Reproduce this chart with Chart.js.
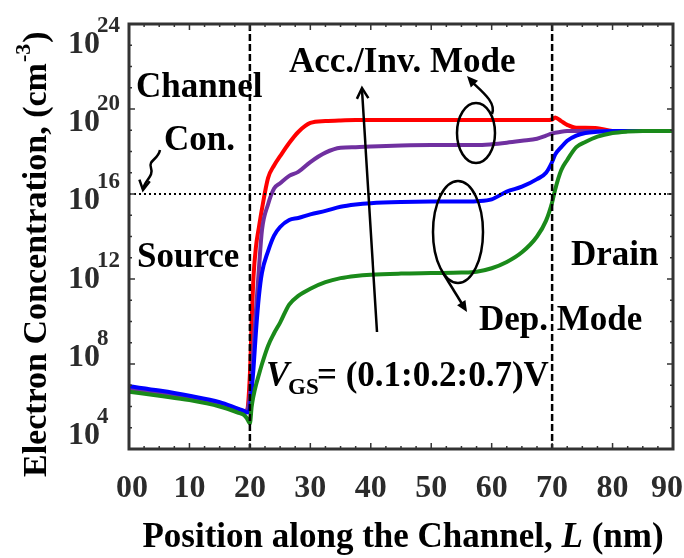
<!DOCTYPE html>
<html>
<head>
<meta charset="utf-8">
<title>Electron Concentration along the Channel</title>
<script src="https://cdn.jsdelivr.net/npm/chart.js"></script>
<style>
  html, body { margin: 0; padding: 0; background: #fff; }
  #wrap { width: 684px; height: 558px; }
</style>
</head>
<body>
<div id="wrap"><canvas id="chart"></canvas></div>
<script>
// Position along the channel (nm)
const positions = [0, 5, 10, 15, 18, 19, 19.5, 20, 20.3, 20.6, 21, 21.5, 22, 23, 24, 25, 26.5, 28, 30, 32.5,
  35, 37.5, 40, 45, 50, 55, 57.5, 60, 62.5, 65, 67.5, 69, 70, 70.5, 71.5, 72.5, 74, 75.5, 77.5, 80, 82.5, 85, 90];

// Electron concentration (cm^-3) for each gate voltage
const vgs01 = [5.0e6, 3.2e6, 2.0e6, 1.0e6, 5.2e5, 4.0e5, 2.8e5, 1.6e5, 1.0e6, 3.2e6, 1.0e7, 3.2e7, 1.0e8, 7.1e8,
  2.8e9, 8.9e9, 6.3e10, 1.6e11, 3.5e11, 7.1e11, 1.1e12, 1.4e12, 1.6e12, 1.8e12, 1.9e12, 2.0e12, 2.2e12, 3.2e12,
  6.3e12, 1.8e13, 1.0e14, 5.6e14, 4.0e15, 1.6e16, 1.3e17, 4.0e17, 1.6e18, 2.8e18, 5.0e18, 7.4e18, 8.7e18, 9.3e18, 9.3e18];
const vgs03 = [8.9e6, 5.6e6, 3.2e6, 1.6e6, 7.9e5, 6.3e5, 5.2e5, 7.9e5, 6.3e6, 6.3e7, 3.2e9, 1.6e11, 2.0e12, 2.0e13,
  1.1e14, 2.8e14, 6.0e14, 7.4e14, 1.1e15, 1.6e15, 2.5e15, 3.2e15, 3.7e15, 4.2e15, 4.4e15, 4.4e15, 4.6e15, 5.6e15,
  1.3e16, 2.2e16, 5.0e16, 1.0e17, 3.2e17, 7.1e17, 1.6e18, 3.2e18, 5.6e18, 7.4e18, 8.5e18, 9.3e18, 9.3e18, 9.3e18, 9.3e18];
const vgs05 = [7.4e6, 4.3e6, 2.5e6, 1.2e6, 6.9e5, 5.5e5, 6.3e5, 3.2e6, 3.2e7, 6.3e8, 3.2e10, 3.2e12, 2.0e14, 3.2e15,
  1.8e16, 3.2e16, 7.1e16, 1.1e17, 3.2e17, 8.9e17, 1.5e18, 1.6e18, 1.7e18, 1.9e18, 2.0e18, 2.0e18, 2.0e18, 2.2e18,
  2.6e18, 3.2e18, 4.0e18, 5.6e18, 7.1e18, 7.6e18, 8.5e18, 9.1e18, 9.3e18, 9.3e18, 9.3e18, 9.3e18, 9.3e18, 9.3e18, 9.3e18];
const vgs07 = [7.4e6, 4.3e6, 2.5e6, 1.2e6, 6.9e5, 5.5e5, 6.3e5, 3.2e7, 1.0e10, 1.3e12, 3.2e13, 2.8e14, 2.0e15, 5.6e16,
  2.2e17, 6.0e17, 2.5e18, 8.3e18, 2.2e19, 2.7e19, 2.9e19, 3.0e19, 3.0e19, 3.0e19, 3.0e19, 3.0e19, 3.0e19, 3.0e19,
  3.0e19, 3.0e19, 3.0e19, 3.0e19, 3.2e19, 4.0e19, 2.7e19, 1.8e19, 1.3e19, 1.3e19, 1.25e19, 9.3e18, 9.3e18, 9.3e18, 9.3e18];

// Axis ticks
const xTicks = [0, 10, 20, 30, 40, 50, 60, 70, 80, 90];
const xTickLabels = ['00', '10', '20', '30', '40', '50', '60', '70', '80', '90'];
const yTicks = [1e4, 1e8, 1e12, 1e16, 1e20, 1e24];
const yTickExponents = ['4', '8', '12', '16', '20', '24'];

// Source / drain edges and channel doping
const junctions = [20, 70];
const channelDoping = 1e16;

const SERIF = '"Liberation Serif", "Times New Roman", serif';

function series(values, color) {
  return {
    data: positions.map((x, i) => ({ x: x, y: values[i] })),
    borderColor: color,
    borderWidth: 4,
    pointRadius: 0,
    cubicInterpolationMode: 'monotone',
    fill: false
  };
}

function line(ctx, x1, y1, x2, y2) {
  ctx.beginPath();
  ctx.moveTo(x1, y1);
  ctx.lineTo(x2, y2);
  ctx.stroke();
}

function arrowHead(ctx, tipX, tipY, fromX, fromY, size, filled) {
  const ang = Math.atan2(tipY - fromY, tipX - fromX);
  const spread = filled ? 0.42 : 0.5;
  const ax = tipX - size * Math.cos(ang - spread), ay = tipY - size * Math.sin(ang - spread);
  const bx = tipX - size * Math.cos(ang + spread), by = tipY - size * Math.sin(ang + spread);
  ctx.beginPath();
  ctx.moveTo(ax, ay);
  ctx.lineTo(tipX, tipY);
  ctx.lineTo(bx, by);
  if (filled) { ctx.closePath(); ctx.fill(); } else { ctx.stroke(); }
}

// reference lines, tick marks and the box around the plot
const framePlugin = {
  id: 'frame',
  afterDatasetsDraw(chart) {
    const { ctx, chartArea: a, scales: { x, y } } = chart;
    ctx.save();
    ctx.strokeStyle = '#000';
    ctx.lineWidth = 2.5;
    ctx.setLineDash([7, 3]);
    junctions.forEach(v => {
      const px = x.getPixelForValue(v);
      line(ctx, px, a.top, px, a.bottom);
    });
    ctx.lineWidth = 2;
    ctx.setLineDash([2, 3]);
    const dy = y.getPixelForValue(channelDoping);
    line(ctx, a.left, dy, a.right, dy);
    ctx.setLineDash([]);

    ctx.strokeStyle = '#333';
    ctx.lineWidth = 1.5;
    for (let v = 0; v <= 90; v += 2.5) {
      const px = x.getPixelForValue(v);
      const len = v % 10 === 0 ? 6 : 3;
      line(ctx, px, a.bottom, px, a.bottom - len);
      line(ctx, px, a.top, px, a.top + len);
    }
    for (let e = 4; e <= 24; e++) {
      const py = y.getPixelForValue(Math.pow(10, e));
      const len = e % 4 === 0 ? 6 : 3;
      line(ctx, a.left, py, a.left + len, py);
      line(ctx, a.right, py, a.right - len, py);
    }
    ctx.lineWidth = 3;
    ctx.strokeRect(a.left, a.top, a.right - a.left, a.bottom - a.top);
    ctx.restore();
  }
};

// tick labels, axis titles and annotations
const labelPlugin = {
  id: 'labels',
  afterDraw(chart) {
    const { ctx, chartArea: a, scales: { x, y }, width } = chart;
    ctx.save();
    ctx.textBaseline = 'alphabetic';

    // x tick labels
    ctx.fillStyle = '#2b2b2b';
    ctx.font = 'bold 32px ' + SERIF;
    ctx.textAlign = 'center';
    xTicks.forEach((v, i) => {
      const w = ctx.measureText(xTickLabels[i]).width;
      const px = Math.min(x.getPixelForValue(v), width - w / 2 - 1);
      ctx.fillText(xTickLabels[i], px + (i === 0 ? 3 : 0), a.bottom + 48);
    });

    // y tick labels, spread evenly down the axis
    const n = yTicks.length;
    const top = a.top + 19, bottom = a.bottom - 15;
    yTicks.forEach((v, i) => {
      const cy = bottom - (bottom - top) * i / (n - 1);
      ctx.font = 'bold 32px ' + SERIF;
      ctx.textAlign = 'right';
      ctx.fillText('10', a.left - 29, cy + 10);
      ctx.font = 'bold 23px ' + SERIF;
      ctx.textAlign = 'left';
      ctx.fillText(yTickExponents[i], a.left - 32, cy - 11);
    });

    // x axis title
    ctx.fillStyle = '#000';
    const xParts = [['Position along the Channel, ', 'bold'], ['L', 'italic bold'], [' (nm)', 'bold']];
    let total = 0;
    xParts.forEach(p => { ctx.font = p[1] + ' 35px ' + SERIF; total += ctx.measureText(p[0]).width; });
    let cx = (a.left + a.right) / 2 + 2 - total / 2;
    ctx.textAlign = 'left';
    xParts.forEach(p => {
      ctx.font = p[1] + ' 35px ' + SERIF;
      ctx.fillText(p[0], cx, 547);
      cx += ctx.measureText(p[0]).width;
    });

    // y axis title
    ctx.save();
    ctx.translate(46, 477);
    ctx.rotate(-Math.PI / 2);
    ctx.font = 'bold 34px ' + SERIF;
    let tx = 0;
    ctx.fillText('Electron Concentration, (cm', tx, 0);
    tx += ctx.measureText('Electron Concentration, (cm').width;
    ctx.font = 'bold 22px ' + SERIF;
    ctx.fillText('-3', tx + 1, -16);
    tx += ctx.measureText('-3').width + 2;
    ctx.font = 'bold 34px ' + SERIF;
    ctx.fillText(')', tx, 0);
    ctx.restore();

    // region and mode labels
    ctx.font = 'bold 35px ' + SERIF;
    ctx.fillText('Channel', 136, 97);
    ctx.fillText('Con.', 164, 150);
    ctx.fillText('Source', 137, 267);
    ctx.fillText('Acc./Inv. Mode', 289, 72);
    ctx.fillText('Drain', 571, 265);
    ctx.fillText('Dep. Mode', 479, 330);

    // gate voltage sweep
    ctx.font = 'italic bold 35px ' + SERIF;
    ctx.fillText('V', 266, 386);
    ctx.font = 'bold 23px ' + SERIF;
    ctx.fillText('GS', 288, 394);
    ctx.font = 'bold 35px ' + SERIF;
    ctx.fillText('= (0.1:0.2:0.7)V', 317, 386);

    ctx.strokeStyle = '#000';
    ctx.fillStyle = '#000';
    ctx.lineWidth = 2.5;

    // sweep arrow
    line(ctx, 377, 332, 362, 90);
    arrowHead(ctx, 362, 88, 377, 332, 12, false);

    // accumulation / inversion ellipse
    ctx.beginPath();
    ctx.ellipse(476, 133, 19, 30, 0, 0, Math.PI * 2);
    ctx.stroke();
    ctx.beginPath();
    ctx.moveTo(492, 114);
    ctx.bezierCurveTo(497, 102, 480, 90, 470, 80);
    ctx.stroke();
    arrowHead(ctx, 467, 76, 478, 88, 12, true);

    // depletion ellipse
    ctx.beginPath();
    ctx.ellipse(458, 232, 25, 51, 0, 0, Math.PI * 2);
    ctx.stroke();
    line(ctx, 443, 273, 464, 307);
    arrowHead(ctx, 467, 312, 443, 273, 12, true);

    // channel doping pointer
    ctx.beginPath();
    ctx.moveTo(160, 150);
    ctx.bezierCurveTo(158, 160, 148, 160, 151, 168);
    ctx.bezierCurveTo(154, 176, 145, 180, 143, 189);
    ctx.stroke();
    arrowHead(ctx, 143, 190, 145, 178, 11, false);

    ctx.restore();
  }
};

new Chart(document.getElementById('chart'), {
  type: 'line',
  data: {
    datasets: [
      series(vgs01, '#1a8a1a'),
      series(vgs03, '#0000ff'),
      series(vgs05, '#7030a0'),
      series(vgs07, '#ff0000')
    ]
  },
  options: {
    responsive: true,
    maintainAspectRatio: false,
    animation: false,
    layout: { padding: { left: 129, top: 24, right: 11, bottom: 109 } },
    plugins: { legend: { display: false }, tooltip: { enabled: false } },
    scales: {
      x: {
        type: 'linear', min: 0, max: 90,
        ticks: { display: false },
        grid: { display: false, drawTicks: false },
        border: { display: false }
      },
      y: {
        type: 'logarithmic', min: 1e4, max: 1e24,
        ticks: { display: false },
        grid: { display: false, drawTicks: false },
        border: { display: false }
      }
    }
  },
  plugins: [framePlugin, labelPlugin]
});
</script>
</body>
</html>
